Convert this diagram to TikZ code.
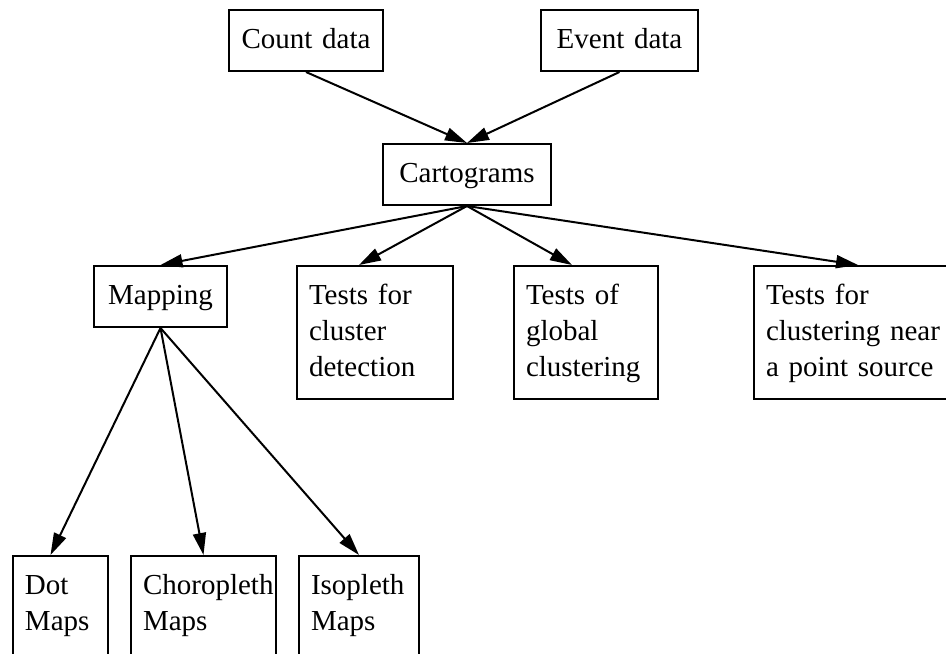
\documentclass[tikz,border=0pt]{standalone}
\usepackage{fontspec}
\setmainfont{Liberation Serif}
\usepackage{tikz}
\usetikzlibrary{shapes.misc, positioning}
\usetikzlibrary{shapes.geometric, arrows.meta}
\tikzstyle{process} = [rectangle, anchor=north west, draw=black, line width=1pt, inner xsep=6pt, inner ysep=9pt, text height=10pt, text depth=2.5pt, align=center, font=\fontsize{14.5pt}{18pt}\selectfont]
\tikzstyle{process1} = [process, text depth=38.5pt, align=left]
\tikzstyle{process2} = [process, text depth=60pt, align=left]
\tikzstyle{arrow} = [line width=1pt,-{Triangle[length=11pt,width=6.5pt]}]

\begin{document}
\begin{tikzpicture}[x=0.5pt,y=-0.5pt]
    \useasboundingbox (0,0) rectangle (946,653);
    \node (count) [process, text width=65pt] at (228,9) {Count data};
    \node (event) [process, text width=66.5pt] at (540,9) {Event data};
    \node (carto) [process, text width=72pt] at (382,143) {Cartograms};

    \node (mapping) [process, text width=54.5pt] at (93,265) {Mapping};
    \node (detect) [process1, text width=66pt] at (296,265) {Tests for\\cluster\\detection};
    \node (global) [process1, text width=60pt] at (513,265) {Tests of\\global\\clustering};
    \node (source) [process1, text width=98pt] at (753,265) {Tests for\\clustering near\\a point source};

    \node (dot) [process2, text width=35.5pt] at (12,555) {Dot\\Maps};
    \node (choro) [process2, text width=60.5pt] at (130,555) {Choropleth\\Maps};
    \node (iso) [process2, text width=48pt] at (298,555) {Isopleth\\Maps};

    \draw[arrow] (count.south)--(carto.north);
    \draw[arrow] (event.south)--(carto.north);
    \draw[arrow] (carto.south)--(mapping.north);
    \draw[arrow] (carto.south)--([xshift=-8pt]detect.north);
    \draw[arrow] (carto.south)--([xshift=-7pt]global.north);
    \draw[arrow] (carto.south)--([xshift=-3pt]source.north);
    \draw[arrow] (mapping.south)--([xshift=-5pt]dot.north);
    \draw[arrow] (mapping.south)--(choro.north);
    \draw[arrow] (mapping.south)--(iso.north);
\end{tikzpicture}
\end{document}
